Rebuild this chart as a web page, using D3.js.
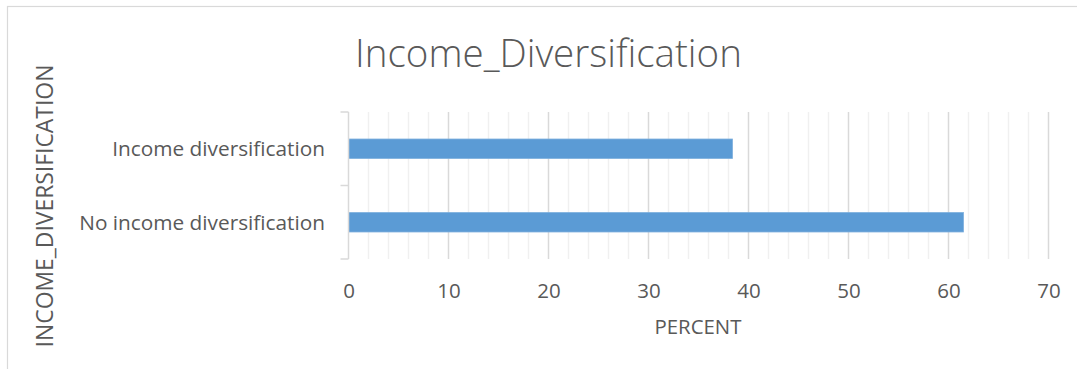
<!DOCTYPE html>
<html>
<head>
<meta charset="utf-8">
<script src="https://cdn.jsdelivr.net/npm/d3@7"></script>
<style>
  html, body { margin: 0; padding: 0; background: #fff; }
  svg { display: block; }
  text { font-family: "Open Sans", "Noto Sans", sans-serif; fill: #595959; }
</style>
</head>
<body>
<svg id="chart" width="1077" height="369"></svg>
<script>
// Chart data
const categories = ["Income diversification", "No income diversification"];
const percentValues = [38.4, 61.5];
const xTickValues = [0, 10, 20, 30, 40, 50, 60, 70];
const minorStep = 2;
const chartTitle = "Income_Diversification";
const xAxisTitle = "PERCENT";
const yAxisTitle = "INCOME_DIVERSIFICATION";

const W = 1077, H = 369;
const plot = { left: 348.5, right: 1048.5, top: 112, bottom: 259 };

const svg = d3.select("#chart");

// Fit a text element's font size so that it spans a given width
function fitText(sel, targetWidth, startSize) {
  sel.attr("font-size", startSize);
  const w = sel.node().getComputedTextLength();
  sel.attr("font-size", startSize * targetWidth / w);
  return sel;
}

// Chart frame
svg.append("rect")
  .attr("x", 7.5).attr("y", 6.5)
  .attr("width", W + 20).attr("height", H + 20)
  .attr("fill", "#fff").attr("stroke", "#d9d9d9").attr("stroke-width", 1.2);

const x = d3.scaleLinear().domain([0, 70]).range([plot.left, plot.right]);
const y = d3.scaleBand().domain(categories)
  .range([plot.top, plot.bottom])
  .paddingInner(0.735).paddingOuter(0.3675);

// Minor gridlines
const minorVals = d3.range(0, 70 + 0.001, minorStep).filter(v => v % 10 !== 0);
svg.append("g").selectAll("line").data(minorVals).join("line")
  .attr("x1", d => x(d)).attr("x2", d => x(d))
  .attr("y1", plot.top).attr("y2", plot.bottom)
  .attr("stroke", "#f0f0f0").attr("stroke-width", 1.5);

// Major gridlines
svg.append("g").selectAll("line").data(xTickValues.slice(1)).join("line")
  .attr("x1", d => x(d)).attr("x2", d => x(d))
  .attr("y1", plot.top).attr("y2", plot.bottom)
  .attr("stroke", "#d9d9d9").attr("stroke-width", 1.5);

// Bars
svg.append("g").selectAll("rect").data(categories).join("rect")
  .attr("x", x(0))
  .attr("y", d => y(d))
  .attr("width", (d, i) => x(percentValues[i]) - x(0))
  .attr("height", y.bandwidth())
  .attr("fill", "#5b9bd5")
  .attr("stroke", "#7eb0de").attr("stroke-width", 0.8);

// Vertical category axis with boundary ticks
const yAxisG = svg.append("g");
yAxisG.append("line")
  .attr("x1", plot.left).attr("x2", plot.left)
  .attr("y1", plot.top).attr("y2", plot.bottom)
  .attr("stroke", "#d9d9d9").attr("stroke-width", 1.5);
const boundaries = [plot.top, (plot.top + plot.bottom) / 2, plot.bottom];
yAxisG.selectAll("line.tick").data(boundaries).join("line")
  .attr("class", "tick")
  .attr("x1", plot.left - 8).attr("x2", plot.left)
  .attr("y1", d => d).attr("y2", d => d)
  .attr("stroke", "#d9d9d9").attr("stroke-width", 1.5);

// Category labels
const catLabels = svg.append("g").selectAll("text").data(categories).join("text")
  .attr("x", 325)
  .attr("y", d => y(d) + y.bandwidth() / 2)
  .attr("dy", "0.36em")
  .attr("text-anchor", "end")
  .text(d => d);
fitText(d3.select(catLabels.nodes()[1]), 246, 18);
catLabels.attr("font-size", d3.select(catLabels.nodes()[1]).attr("font-size"));

// X tick labels
const xAxis = d3.axisBottom(x).tickValues(xTickValues).tickSize(0).tickPadding(0);
const xg = svg.append("g").attr("transform", `translate(0, ${plot.bottom})`).call(xAxis);
xg.select(".domain").remove();
xg.selectAll("text")
  .attr("y", 39.3).attr("dy", 0)
  .attr("font-size", 20.5)
  .attr("font-family", "\"Open Sans\", sans-serif")
  .attr("fill", "#595959");

// Axis titles
const xt = svg.append("text")
  .attr("x", 698).attr("y", 334)
  .attr("text-anchor", "middle")
  .text(xAxisTitle);
fitText(xt, 87, 16);

const yt = svg.append("text")
  .attr("transform", "translate(53, 206) rotate(-90)")
  .attr("text-anchor", "middle")
  .text(yAxisTitle);
fitText(yt, 283, 16);

// Chart title
const tt = svg.append("text")
  .attr("x", 548.5).attr("y", 67)
  .attr("text-anchor", "middle")
  .attr("font-weight", 300)
  .text(chartTitle);
fitText(tt, 387, 28);
</script>
</body>
</html>
